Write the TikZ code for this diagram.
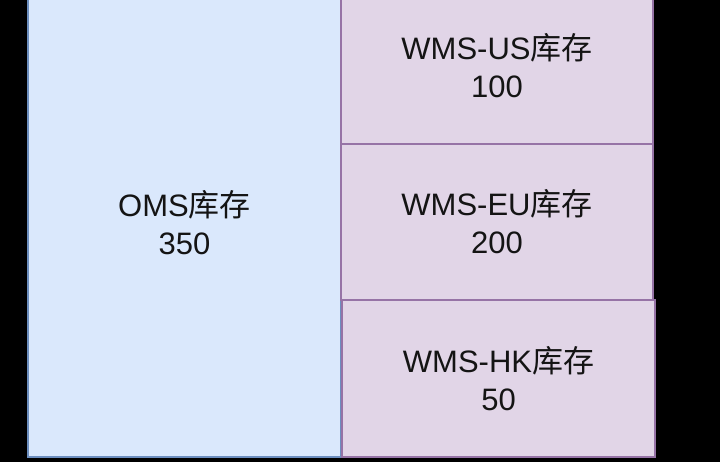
\documentclass[tikz,border=0pt]{standalone}
\usepackage{fontspec}
\setmainfont{Liberation Sans}
\newfontfamily\cjk{Noto Sans CJK SC}
\definecolor{omsfill}{HTML}{DAE8FC}
\definecolor{omsline}{HTML}{6C8EBF}
\definecolor{wmsfill}{HTML}{E1D5E7}
\definecolor{wmsline}{HTML}{9673A6}
\definecolor{labeltext}{HTML}{141414}
\tikzset{
  stock/.style={draw, line width=2pt, align=center, inner sep=0pt,
    font=\fontsize{31}{38}\selectfont, text=labeltext},
  omsbox/.style={stock, draw=omsline, fill=omsfill},
  wmsbox/.style={stock, draw=wmsline, fill=wmsfill},
}
\begin{document}
\begin{tikzpicture}[x=1pt,y=-1pt]
   \useasboundingbox (0,0) rectangle (720,462);
   \clip (0,0) rectangle (720,462);
   \fill[black] (0,0) rectangle (720,462);

   % OMS side
   \node[omsbox, minimum width=313pt, minimum height=469pt] (oms) at (184.5,222.5)
      {OMS{\cjk 库存}\\350};

   % WMS side
   \node[wmsbox, minimum width=312pt, minimum height=156pt] (us) at (497,66)
      {WMS-US{\cjk 库存}\\100};
   \node[wmsbox, minimum width=312pt, minimum height=156pt] (eu) at (497,222)
      {WMS-EU{\cjk 库存}\\200};
   \node[wmsbox, minimum width=313pt, minimum height=157pt] (hk) at (498.5,378.5)
      {WMS-HK{\cjk 库存}\\50};
\end{tikzpicture}
\end{document}
